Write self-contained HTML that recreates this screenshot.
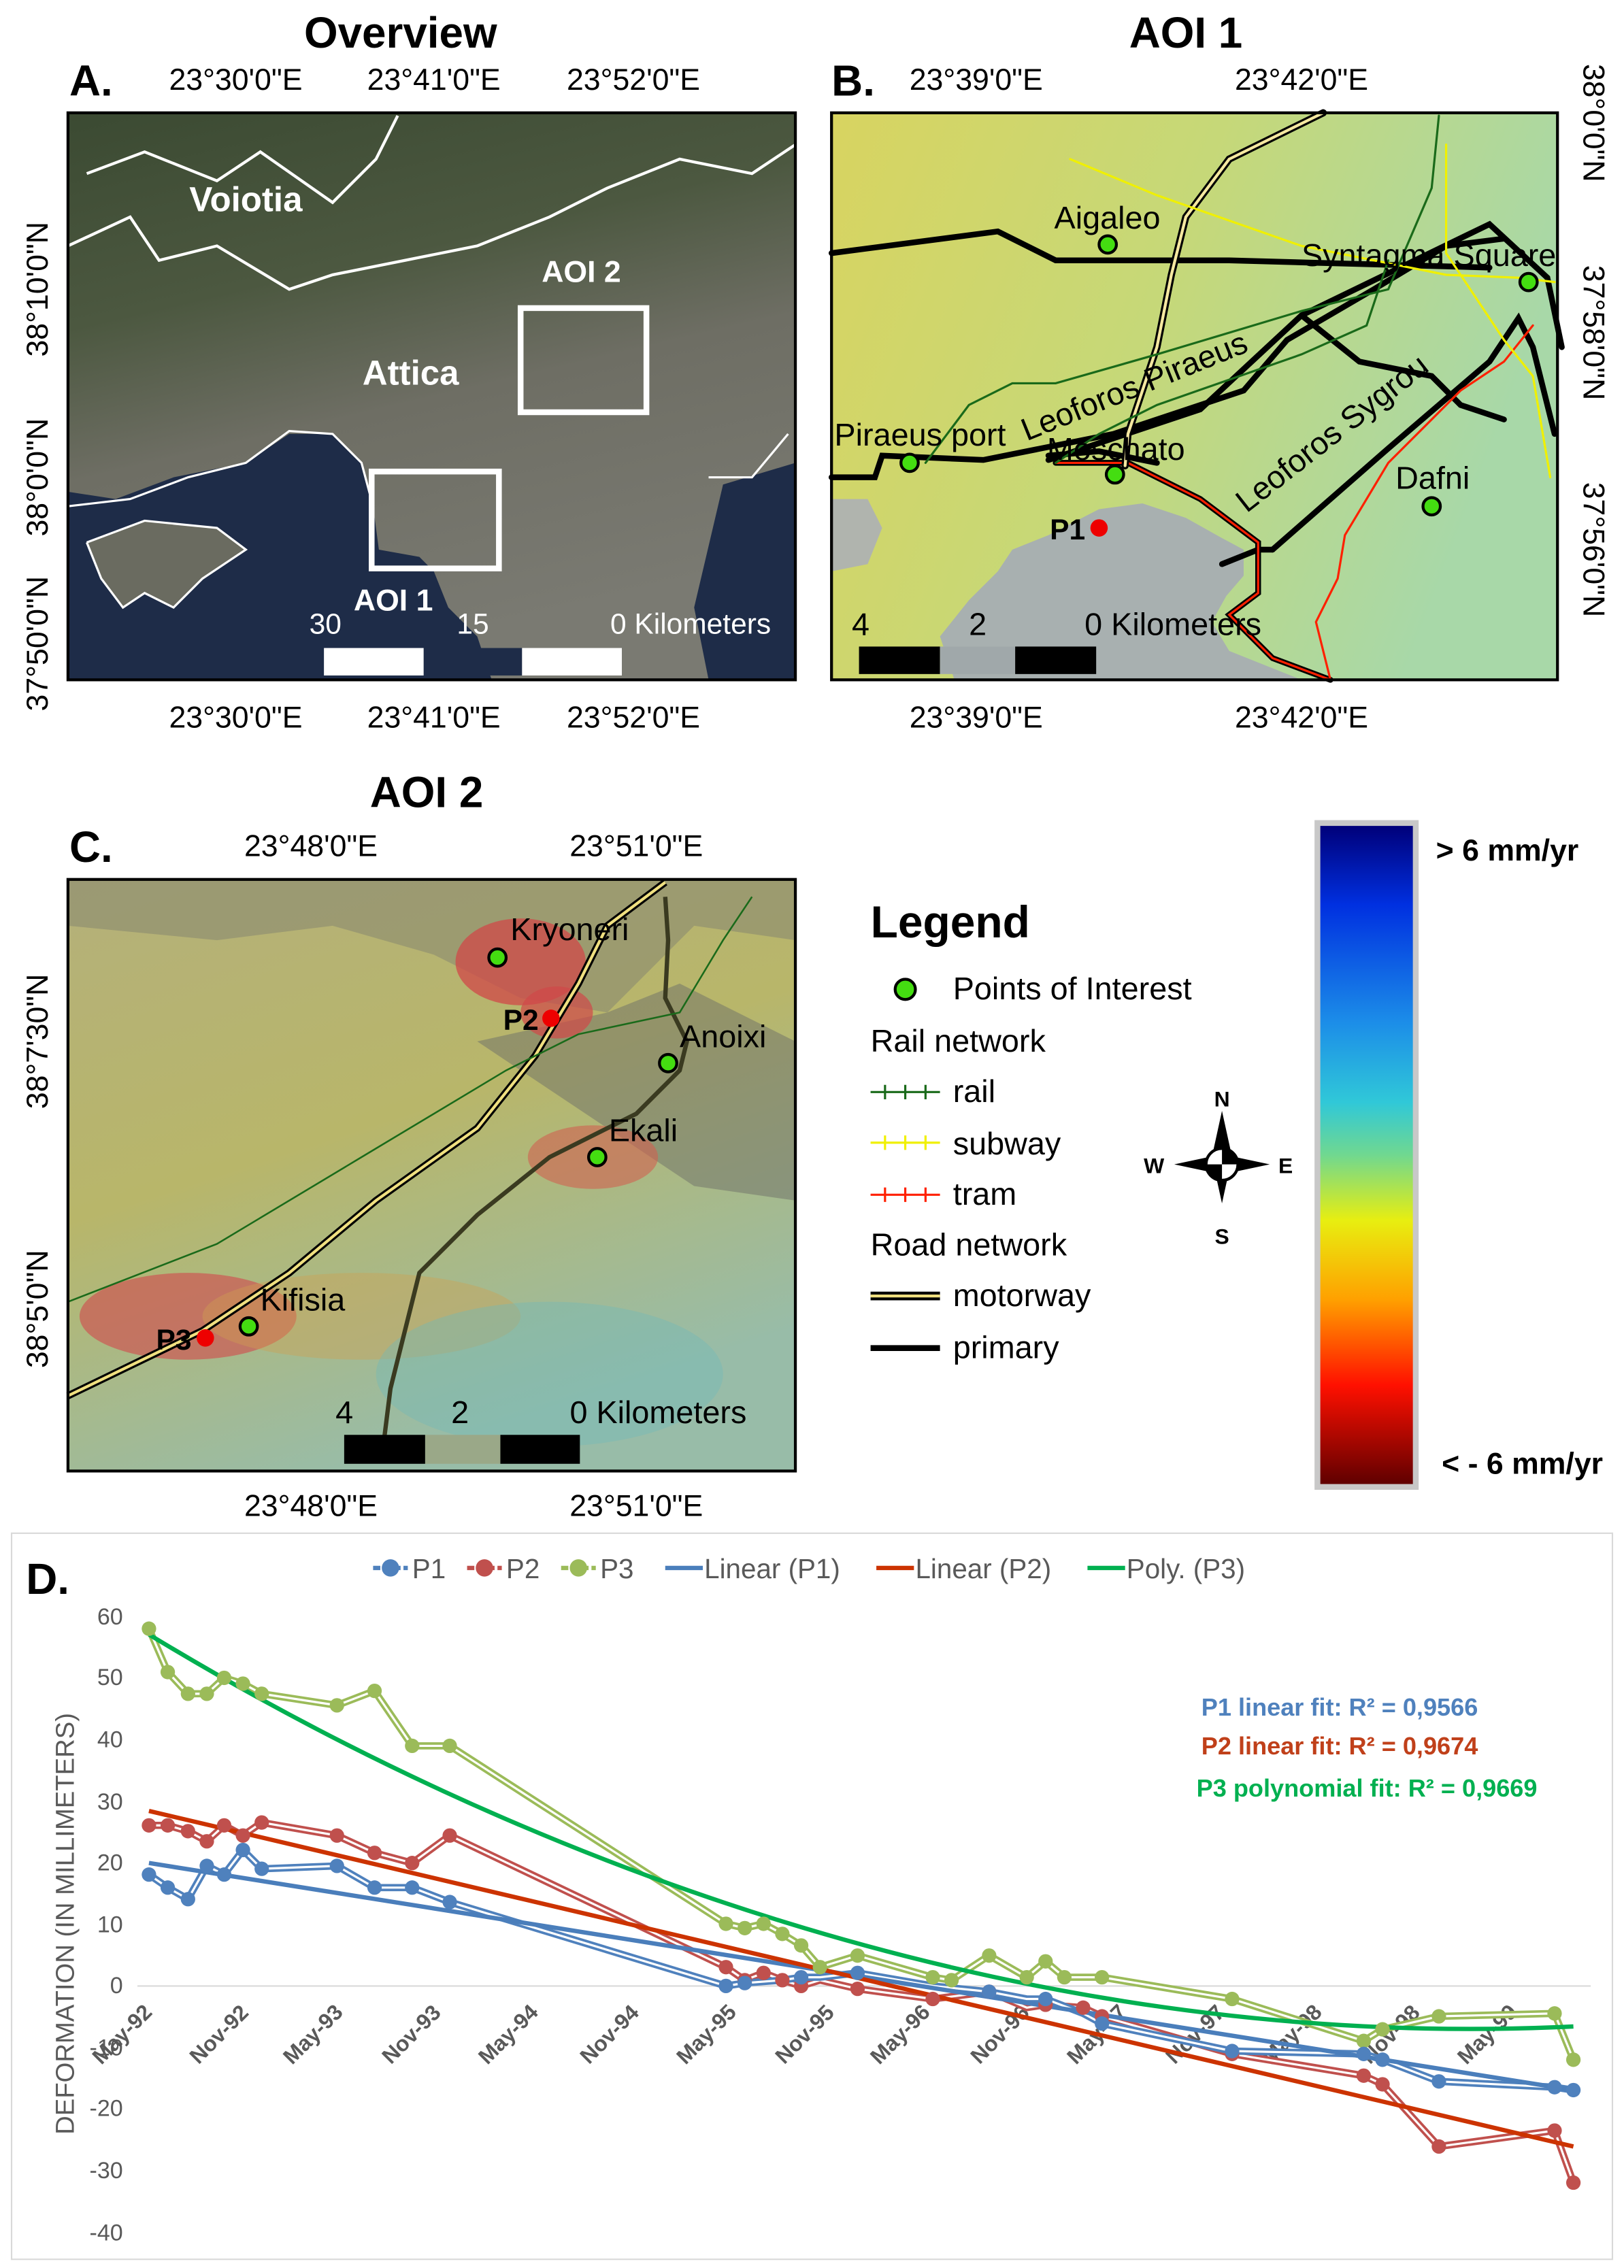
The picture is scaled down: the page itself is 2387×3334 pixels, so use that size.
<!DOCTYPE html>
<html><head><meta charset="utf-8"><style>
html,body{margin:0;padding:0;background:#fff;}
svg{display:block;}
text{font-family:"Liberation Sans",sans-serif;}
</style></head><body>
<svg width="2387" height="3334" viewBox="0 0 1123 1568" preserveAspectRatio="none" xmlns="http://www.w3.org/2000/svg">
<defs>
<linearGradient id="cb" x1="0" y1="0" x2="0" y2="1">
<stop offset="0" stop-color="#00007a"/><stop offset="0.12" stop-color="#0030e0"/><stop offset="0.3" stop-color="#1c8ee8"/>
<stop offset="0.42" stop-color="#30c8d8"/><stop offset="0.5" stop-color="#70d890"/><stop offset="0.6" stop-color="#e8ee10"/>
<stop offset="0.72" stop-color="#ffa000"/><stop offset="0.85" stop-color="#ff1000"/><stop offset="1" stop-color="#600000"/>
</linearGradient>
<linearGradient id="satA" x1="0" y1="0" x2="0.3" y2="1">
<stop offset="0" stop-color="#3b4a32"/><stop offset="0.35" stop-color="#4c5840"/><stop offset="0.6" stop-color="#6e6e64"/><stop offset="1" stop-color="#7a7a72"/>
</linearGradient>
<linearGradient id="mapB" x1="0" y1="0" x2="1" y2="0.3">
<stop offset="0" stop-color="#d8d460"/><stop offset="0.5" stop-color="#c6d878"/><stop offset="1" stop-color="#a8d8a8"/>
</linearGradient>
<linearGradient id="mapC" x1="0" y1="0" x2="0.4" y2="1">
<stop offset="0" stop-color="#b4b07a"/><stop offset="0.5" stop-color="#b8b66a"/><stop offset="1" stop-color="#98bca8"/>
</linearGradient>
</defs>

<!-- Titles -->
<text x="277" y="33" font-size="30" font-weight="bold" text-anchor="middle">Overview</text>
<text x="820" y="33" font-size="30" font-weight="bold" text-anchor="middle">AOI 1</text>
<text x="295" y="558" font-size="30" font-weight="bold" text-anchor="middle">AOI 2</text>
<text x="48" y="66" font-size="30" font-weight="bold">A.</text>
<text x="575" y="66" font-size="30" font-weight="bold">B.</text>
<text x="48" y="596" font-size="30" font-weight="bold">C.</text>

<!-- Panel A -->
<rect x="47" y="78" width="503" height="392" fill="url(#satA)"/>
<path d="M47,340 L80,345 120,330 170,320 200,300 230,300 250,320 258,350 262,380 290,385 300,395 310,420 330,440 340,470 47,470Z" fill="#1e2c48"/>
<path d="M60,375 L100,360 150,365 170,380 140,400 120,420 100,410 85,420 70,400Z" fill="#6a6b60"/>
<path d="M500,335 L550,320 550,470 490,470 480,420Z" fill="#1e2c48"/>
<path d="M60,120 L100,105 150,125 180,105 230,140 260,110 275,80 M47,170 L90,150 110,180 150,170 200,200 230,190 280,180 330,170 380,150 420,130 470,110 520,120 550,100" stroke="#fff" stroke-width="2" fill="none"/>
<path d="M47,350 L90,345 130,330 170,320 200,298 230,300 250,320 258,350 M60,375 L100,360 150,365 170,380 140,400 120,420 100,410 85,420 70,400 60,375 M490,330 L520,330 545,300" stroke="#fff" stroke-width="1.5" fill="none"/>
<rect x="360" y="213" width="87" height="72" fill="none" stroke="#fff" stroke-width="4"/>
<rect x="257" y="326" width="88" height="67" fill="none" stroke="#fff" stroke-width="4"/>
<text x="170" y="146" font-size="24" font-weight="bold" fill="#fff" text-anchor="middle">Voiotia</text>
<text x="284" y="266" font-size="24" font-weight="bold" fill="#fff" text-anchor="middle">Attica</text>
<text x="402" y="195" font-size="21" font-weight="bold" fill="#fff" text-anchor="middle">AOI 2</text>
<text x="272" y="422" font-size="21" font-weight="bold" fill="#fff" text-anchor="middle">AOI 1</text>
<text x="225" y="438" font-size="20" fill="#fff" text-anchor="middle">30</text>
<text x="327" y="438" font-size="20" fill="#fff" text-anchor="middle">15</text>
<text x="422" y="438" font-size="20" fill="#fff">0 Kilometers</text>
<rect x="224" y="448" width="69" height="19" fill="#fff"/><rect x="293" y="448" width="68" height="19" fill="#1e2c48"/><rect x="361" y="448" width="69" height="19" fill="#fff"/>
<rect x="47" y="78" width="503" height="392" fill="none" stroke="#000" stroke-width="2"/>
<g font-size="21" text-anchor="middle">
<text x="163" y="62">23°30'0"E</text><text x="300" y="62">23°41'0"E</text><text x="438" y="62">23°52'0"E</text>
<text x="163" y="503">23°30'0"E</text><text x="300" y="503">23°41'0"E</text><text x="438" y="503">23°52'0"E</text>
<text transform="translate(33,200) rotate(-90)">38°10'0"N</text>
<text transform="translate(33,330) rotate(-90)">38°0'0"N</text>
<text transform="translate(33,445) rotate(-90)">37°50'0"N</text>
</g>

<!-- Panel B -->
<rect x="575" y="78" width="502" height="392" fill="url(#mapB)"/>
<path d="M660,470 L650,440 670,415 690,395 700,380 725,370 760,352 790,348 820,358 845,372 860,380 860,398 848,412 838,430 850,450 880,462 900,470Z" fill="#a8b0b0"/>
<path d="M575,345 L600,345 610,365 600,390 575,395Z" fill="#b0b4ae"/>
<g fill="none" stroke-linecap="round">
<path d="M575,175 L690,160 730,180 850,180 1030,185" stroke="#000" stroke-width="4"/>
<path d="M725,315 L760,312 800,320" stroke="#000" stroke-width="4"/>
<path d="M725,318 L830,283 900,218 1030,155 1070,192 1080,240" stroke="#000" stroke-width="4"/>
<path d="M575,330 L605,330 610,315 680,318 770,300 860,270 890,235 950,200 1000,170 1040,165" stroke="#000" stroke-width="4"/>
<path d="M900,218 L940,250 990,260 1010,280 1040,290" stroke="#000" stroke-width="4"/>
<path d="M880,380 L960,310 1030,250 1050,220 1060,240 1075,300" stroke="#000" stroke-width="4"/>
<path d="M845,390 L870,380 880,380" stroke="#000" stroke-width="4"/>
<path d="M730,320 L780,320 830,345 870,375 870,410 850,425 880,455 920,470" stroke="#000" stroke-width="4"/>
<path d="M730,320 L780,320 830,345 870,375 870,410 850,425 880,455 920,470" stroke="#ff2000" stroke-width="1.5"/>
<path d="M920,470 L910,430 925,400 930,370 960,320 1010,270 1040,250 1060,225" stroke="#ff2000" stroke-width="1.5"/>
<path d="M915,78 L850,110 820,150 810,190 800,240 780,300 778,322" stroke="#000" stroke-width="5"/>
<path d="M915,78 L850,110 820,150 810,190 800,240 780,300 778,322" stroke="#f5e8a0" stroke-width="2"/>
<path d="M740,110 L800,135 900,170 1000,190 1050,192 1075,195 M1000,100 L1000,175 1040,235 1060,260 1072,330" stroke="#f0f000" stroke-width="1.5"/>
<path d="M640,320 L670,280 700,265 730,265 800,245 900,215 960,200 990,130 995,80 M730,320 L760,300 800,280 900,245 945,225 960,180" stroke="#1a6a1a" stroke-width="1.5"/>
</g>
<g fill="#44dd11" stroke="#000" stroke-width="2">
<circle cx="766" cy="169" r="6"/><circle cx="1057" cy="195" r="6"/><circle cx="629" cy="320" r="6"/><circle cx="771" cy="328" r="6"/><circle cx="990" cy="350" r="6"/>
</g>
<circle cx="760" cy="365" r="6" fill="#e00"/>
<g font-size="22">
<text x="729" y="158">Aigaleo</text><text x="900" y="184">Syntagma Square</text><text x="577" y="308">Piraeus port</text>
<text x="724" y="318">Moschato</text><text x="965" y="338">Dafni</text>
<text transform="translate(710,305) rotate(-22)">Leoforos Piraeus</text>
<text transform="translate(862,355) rotate(-38)">Leoforos Sygrou</text>
<text x="589" y="439">4</text><text x="670" y="439">2</text><text x="750" y="439">0 Kilometers</text>
</g>
<text x="726" y="373" font-size="20" font-weight="bold">P1</text>
<rect x="594" y="447" width="56" height="19" fill="#000"/><rect x="650" y="447" width="52" height="19" fill="#a0a8aa"/><rect x="702" y="447" width="56" height="19" fill="#000"/>
<rect x="575" y="78" width="502" height="392" fill="none" stroke="#000" stroke-width="2"/>
<g font-size="21" text-anchor="middle">
<text x="675" y="62">23°39'0"E</text><text x="900" y="62">23°42'0"E</text>
<text x="675" y="503">23°39'0"E</text><text x="900" y="503">23°42'0"E</text>
<text transform="translate(1095,85) rotate(90)">38°0'0"N</text>
<text transform="translate(1095,230) rotate(90)">37°58'0"N</text>
<text transform="translate(1095,380) rotate(90)">37°56'0"N</text>
</g>

<!-- Panel C -->
<rect x="47" y="608" width="503" height="409" fill="url(#mapC)"/>
<path d="M47,608 L550,608 550,650 480,640 420,700 360,690 300,660 230,640 150,650 47,640Z" fill="#8a8a70" opacity="0.6"/>
<path d="M330,720 L420,700 470,680 550,720 550,830 480,820 420,780Z" fill="#6e7068" opacity="0.5"/>
<ellipse cx="360" cy="665" rx="45" ry="30" fill="#d04848" opacity="0.75"/>
<ellipse cx="385" cy="700" rx="25" ry="18" fill="#d04848" opacity="0.7"/>
<ellipse cx="410" cy="800" rx="45" ry="22" fill="#d06050" opacity="0.6"/>
<ellipse cx="130" cy="910" rx="75" ry="30" fill="#d05050" opacity="0.65"/>
<ellipse cx="250" cy="910" rx="110" ry="30" fill="#d0a050" opacity="0.4"/>
<ellipse cx="380" cy="950" rx="120" ry="50" fill="#70b8b8" opacity="0.4"/>
<g fill="none">
<path d="M47,965 L140,920 200,880 260,830 330,780 370,730 400,680 420,640 460,610" stroke="#000" stroke-width="5"/>
<path d="M47,965 L140,920 200,880 260,830 330,780 370,730 400,680 420,640 460,610" stroke="#f0e080" stroke-width="2"/>
<path d="M265,1000 L270,960 290,880 330,840 380,800 440,770 470,740 475,720 460,690 462,650 460,620" stroke="#3a3a20" stroke-width="3"/>
<path d="M47,900 L150,860 250,800 350,740 400,715 470,700 500,650 520,620" stroke="#1a6a1a" stroke-width="1.2"/>
</g>
<g fill="#44dd11" stroke="#000" stroke-width="2">
<circle cx="344" cy="662" r="6"/><circle cx="462" cy="735" r="6"/><circle cx="413" cy="800" r="6"/><circle cx="172" cy="917" r="6"/>
</g>
<circle cx="381" cy="704" r="6" fill="#e00"/><circle cx="142" cy="925" r="6" fill="#e00"/>
<g font-size="22">
<text x="353" y="650">Kryoneri</text><text x="470" y="724">Anoixi</text><text x="421" y="789">Ekali</text><text x="180" y="906">Kifisia</text>
<text x="232" y="984">4</text><text x="312" y="984">2</text><text x="394" y="984">0 Kilometers</text>
</g>
<text x="348" y="712" font-size="20" font-weight="bold">P2</text>
<text x="108" y="933" font-size="20" font-weight="bold">P3</text>
<rect x="238" y="992" width="56" height="20" fill="#000"/><rect x="294" y="992" width="52" height="20" fill="#9aa888"/><rect x="346" y="992" width="55" height="20" fill="#000"/>
<rect x="47" y="608" width="503" height="409" fill="none" stroke="#000" stroke-width="2"/>
<g font-size="21" text-anchor="middle">
<text x="215" y="592">23°48'0"E</text><text x="440" y="592">23°51'0"E</text>
<text x="215" y="1048">23°48'0"E</text><text x="440" y="1048">23°51'0"E</text>
<text transform="translate(33,720) rotate(-90)">38°7'30"N</text>
<text transform="translate(33,905) rotate(-90)">38°5'0"N</text>
</g>

<!-- Legend -->
<text x="602" y="648" font-size="31" font-weight="bold">Legend</text>
<circle cx="626" cy="684" r="7" fill="#44dd11" stroke="#000" stroke-width="2"/>
<g font-size="22">
<text x="659" y="691">Points of Interest</text>
<text x="602" y="727">Rail network</text>
<text x="659" y="762">rail</text><text x="659" y="798">subway</text><text x="659" y="833">tram</text>
<text x="602" y="868">Road network</text>
<text x="659" y="903">motorway</text><text x="659" y="939">primary</text>
</g>
<g stroke-width="1.5">
<path d="M602,755 H650 M612,750 V760 M626,750 V760 M640,750 V760" stroke="#1a6a1a"/>
<path d="M602,790 H650 M612,785 V795 M626,785 V795 M640,785 V795" stroke="#f0f000"/>
<path d="M602,826 H650 M612,821 V831 M626,821 V831 M640,821 V831" stroke="#ff2000"/>
</g>
<path d="M602,896 H650" stroke="#000" stroke-width="6"/><path d="M602,896 H650" stroke="#f0e080" stroke-width="2"/>
<path d="M602,932 H650" stroke="#000" stroke-width="4"/>
<!-- compass -->
<g>
<polygon points="845,768 852,800 845,832 838,800" fill="#000"/>
<polygon points="812,805 845,798 878,805 845,812" fill="#000"/>
<circle cx="845" cy="805" r="11" fill="#fff" stroke="#000" stroke-width="2"/>
<path d="M845,805 V794 A11,11 0 0 1 856,805Z M845,805 V816 A11,11 0 0 1 834,805Z" fill="#000"/>
<g font-size="15" font-weight="bold" text-anchor="middle">
<text x="845" y="765" font-family="Liberation Serif">N</text><text x="845" y="860" font-family="Liberation Serif">S</text>
<text x="798" y="811" font-family="Liberation Serif">W</text><text x="889" y="811" font-family="Liberation Serif">E</text>
</g></g>
<!-- colorbar -->
<rect x="909" y="567" width="72" height="463" fill="#c8c8c8"/>
<rect x="913" y="571" width="64" height="455" fill="url(#cb)"/>
<text x="993" y="595" font-size="21" font-weight="bold">&gt; 6 mm/yr</text>
<text x="997" y="1019" font-size="21" font-weight="bold">&lt; - 6 mm/yr</text>

<!-- Panel D -->
<rect x="8" y="1060" width="1107" height="502" fill="#fff" stroke="#d9d9d9" stroke-width="1"/>
<text x="18" y="1102" font-size="30" font-weight="bold">D.</text>
<g font-size="16" fill="#595959" text-anchor="end">
<text x="85" y="1123">60</text><text x="85" y="1165">50</text><text x="85" y="1208">40</text><text x="85" y="1251">30</text>
<text x="85" y="1293">20</text><text x="85" y="1336">10</text><text x="85" y="1378">0</text><text x="85" y="1421">-10</text>
<text x="85" y="1463">-20</text><text x="85" y="1506">-30</text><text x="85" y="1549">-40</text>
</g>
<text transform="translate(51,1330) rotate(-90)" font-size="18" fill="#595959" text-anchor="middle">DEFORMATION  (IN MILLIMETERS)</text>
<line x1="95" y1="1373" x2="1100" y2="1373" stroke="#d9d9d9"/>
<g font-size="15" font-weight="bold" fill="#595959" text-anchor="middle">
<text transform="translate(88,1410) rotate(-45)">May-92</text>
<text transform="translate(155,1410) rotate(-45)">Nov-92</text>
<text transform="translate(220,1410) rotate(-45)">May-93</text>
<text transform="translate(288,1410) rotate(-45)">Nov-93</text>
<text transform="translate(355,1410) rotate(-45)">May-94</text>
<text transform="translate(425,1410) rotate(-45)">Nov-94</text>
<text transform="translate(492,1410) rotate(-45)">May-95</text>
<text transform="translate(560,1410) rotate(-45)">Nov-95</text>
<text transform="translate(626,1410) rotate(-45)">May-96</text>
<text transform="translate(695,1410) rotate(-45)">Nov-96</text>
<text transform="translate(762,1410) rotate(-45)">May-97</text>
<text transform="translate(830,1410) rotate(-45)">Nov-97</text>
<text transform="translate(897,1410) rotate(-45)">May-98</text>
<text transform="translate(965,1410) rotate(-45)">Nov-98</text>
<text transform="translate(1032,1410) rotate(-45)">May-99</text>
</g>
<g fill="none" stroke-linejoin="round">
<polyline stroke="#9bbb59" stroke-width="5" points="103,1126 116,1156 130,1171 143,1171 155,1160 168,1164 181,1171 233,1179 259,1169 285,1207 311,1207 502,1330 515,1333 528,1330 541,1337 554,1345 567,1360 593,1352 645,1367 658,1369 684,1352 710,1367 723,1356 736,1367 762,1367 852,1382 943,1411 956,1403 995,1394 1075,1392 1088,1424"/>
<polyline stroke="#fff" stroke-width="1.5" points="103,1126 116,1156 130,1171 143,1171 155,1160 168,1164 181,1171 233,1179 259,1169 285,1207 311,1207 502,1330 515,1333 528,1330 541,1337 554,1345 567,1360 593,1352 645,1367 658,1369 684,1352 710,1367 723,1356 736,1367 762,1367 852,1382 943,1411 956,1403 995,1394 1075,1392 1088,1424"/>
<polyline stroke="#c0504d" stroke-width="5" points="103,1262 116,1262 130,1266 143,1273 155,1262 168,1269 181,1260 233,1269 259,1281 285,1288 311,1269 502,1360 515,1369 528,1364 541,1369 554,1373 567,1369 593,1375 645,1382 684,1377 710,1388 723,1386 749,1388 762,1394 852,1420 943,1435 956,1441 995,1484 1075,1473 1088,1509"/>
<polyline stroke="#fff" stroke-width="1.5" points="103,1262 116,1262 130,1266 143,1273 155,1262 168,1269 181,1260 233,1269 259,1281 285,1288 311,1269 502,1360 515,1369 528,1364 541,1369 554,1373 567,1369 593,1375 645,1382 684,1377 710,1388 723,1386 749,1388 762,1394 852,1420 943,1435 956,1441 995,1484 1075,1473 1088,1509"/>
<polyline stroke="#4f81bd" stroke-width="5" points="103,1296 116,1305 130,1313 143,1290 155,1296 168,1279 181,1292 233,1290 259,1305 285,1305 311,1315 502,1373 515,1371 541,1369 554,1367 567,1367 593,1364 645,1373 684,1377 710,1382 723,1382 749,1392 762,1399 852,1418 943,1420 956,1424 995,1439 1075,1443 1088,1445"/>
<polyline stroke="#fff" stroke-width="1.5" points="103,1296 116,1305 130,1313 143,1290 155,1296 168,1279 181,1292 233,1290 259,1305 285,1305 311,1315 502,1373 515,1371 541,1369 554,1367 567,1367 593,1364 645,1373 684,1377 710,1382 723,1382 749,1392 762,1399 852,1418 943,1420 956,1424 995,1439 1075,1443 1088,1445"/>
<line x1="103" y1="1288" x2="1088" y2="1445" stroke="#4a7ebb" stroke-width="3"/>
<line x1="103" y1="1252" x2="1088" y2="1484" stroke="#cc3300" stroke-width="3"/>
<path d="M103,1130 C350,1280 700,1420 1088,1401" stroke="#00b050" stroke-width="3"/>
</g>
<g fill="#9bbb59"><circle cx="103" cy="1126" r="5"/><circle cx="116" cy="1156" r="5"/><circle cx="130" cy="1171" r="5"/><circle cx="143" cy="1171" r="5"/><circle cx="155" cy="1160" r="5"/><circle cx="168" cy="1164" r="5"/><circle cx="181" cy="1171" r="5"/><circle cx="233" cy="1179" r="5"/><circle cx="259" cy="1169" r="5"/><circle cx="285" cy="1207" r="5"/><circle cx="311" cy="1207" r="5"/><circle cx="502" cy="1330" r="5"/><circle cx="515" cy="1333" r="5"/><circle cx="528" cy="1330" r="5"/><circle cx="541" cy="1337" r="5"/><circle cx="554" cy="1345" r="5"/><circle cx="567" cy="1360" r="5"/><circle cx="593" cy="1352" r="5"/><circle cx="645" cy="1367" r="5"/><circle cx="658" cy="1369" r="5"/><circle cx="684" cy="1352" r="5"/><circle cx="710" cy="1367" r="5"/><circle cx="723" cy="1356" r="5"/><circle cx="736" cy="1367" r="5"/><circle cx="762" cy="1367" r="5"/><circle cx="852" cy="1382" r="5"/><circle cx="943" cy="1411" r="5"/><circle cx="956" cy="1403" r="5"/><circle cx="995" cy="1394" r="5"/><circle cx="1075" cy="1392" r="5"/><circle cx="1088" cy="1424" r="5"/></g>
<g fill="#c0504d"><circle cx="103" cy="1262" r="5"/><circle cx="116" cy="1262" r="5"/><circle cx="130" cy="1266" r="5"/><circle cx="143" cy="1273" r="5"/><circle cx="155" cy="1262" r="5"/><circle cx="168" cy="1269" r="5"/><circle cx="181" cy="1260" r="5"/><circle cx="233" cy="1269" r="5"/><circle cx="259" cy="1281" r="5"/><circle cx="285" cy="1288" r="5"/><circle cx="311" cy="1269" r="5"/><circle cx="502" cy="1360" r="5"/><circle cx="515" cy="1369" r="5"/><circle cx="528" cy="1364" r="5"/><circle cx="541" cy="1369" r="5"/><circle cx="554" cy="1373" r="5"/><circle cx="593" cy="1375" r="5"/><circle cx="645" cy="1382" r="5"/><circle cx="684" cy="1377" r="5"/><circle cx="723" cy="1386" r="5"/><circle cx="749" cy="1388" r="5"/><circle cx="762" cy="1394" r="5"/><circle cx="852" cy="1420" r="5"/><circle cx="943" cy="1435" r="5"/><circle cx="956" cy="1441" r="5"/><circle cx="995" cy="1484" r="5"/><circle cx="1075" cy="1473" r="5"/><circle cx="1088" cy="1509" r="5"/></g>
<g fill="#4f81bd"><circle cx="103" cy="1296" r="5"/><circle cx="116" cy="1305" r="5"/><circle cx="130" cy="1313" r="5"/><circle cx="143" cy="1290" r="5"/><circle cx="155" cy="1296" r="5"/><circle cx="168" cy="1279" r="5"/><circle cx="181" cy="1292" r="5"/><circle cx="233" cy="1290" r="5"/><circle cx="259" cy="1305" r="5"/><circle cx="285" cy="1305" r="5"/><circle cx="311" cy="1315" r="5"/><circle cx="502" cy="1373" r="5"/><circle cx="515" cy="1371" r="5"/><circle cx="554" cy="1367" r="5"/><circle cx="593" cy="1364" r="5"/><circle cx="684" cy="1377" r="5"/><circle cx="723" cy="1382" r="5"/><circle cx="762" cy="1399" r="5"/><circle cx="852" cy="1418" r="5"/><circle cx="943" cy="1420" r="5"/><circle cx="956" cy="1424" r="5"/><circle cx="995" cy="1439" r="5"/><circle cx="1075" cy="1443" r="5"/><circle cx="1088" cy="1445" r="5"/></g>
<g font-size="17" font-weight="bold" text-anchor="end">
<text x="1022" y="1186" fill="#4f81bd">P1 linear fit: R² = 0,9566</text>
<text x="1022" y="1213" fill="#c0401a">P2 linear fit: R² = 0,9674</text>
<text x="1063" y="1242" fill="#00b050">P3 polynomial fit: R² = 0,9669</text>
</g>
<g font-size="19" fill="#595959">
<path d="M258,1084 H282" stroke="#4f81bd" stroke-width="3" stroke-dasharray="5,2"/><circle cx="270" cy="1084" r="6" fill="#4f81bd"/><text x="285" y="1091">P1</text>
<path d="M323,1084 H347" stroke="#c0504d" stroke-width="3" stroke-dasharray="5,2"/><circle cx="335" cy="1084" r="6" fill="#c0504d"/><text x="350" y="1091">P2</text>
<path d="M388,1084 H412" stroke="#9bbb59" stroke-width="3" stroke-dasharray="5,2"/><circle cx="400" cy="1084" r="6" fill="#9bbb59"/><text x="415" y="1091">P3</text>
<path d="M460,1084 H486" stroke="#4a7ebb" stroke-width="3"/><text x="487" y="1091">Linear (P1)</text>
<path d="M606,1084 H632" stroke="#cc3300" stroke-width="3"/><text x="633" y="1091">Linear (P2)</text>
<path d="M752,1084 H778" stroke="#00b050" stroke-width="3"/><text x="779" y="1091">Poly. (P3)</text>
</g>
</svg>
</body></html>
